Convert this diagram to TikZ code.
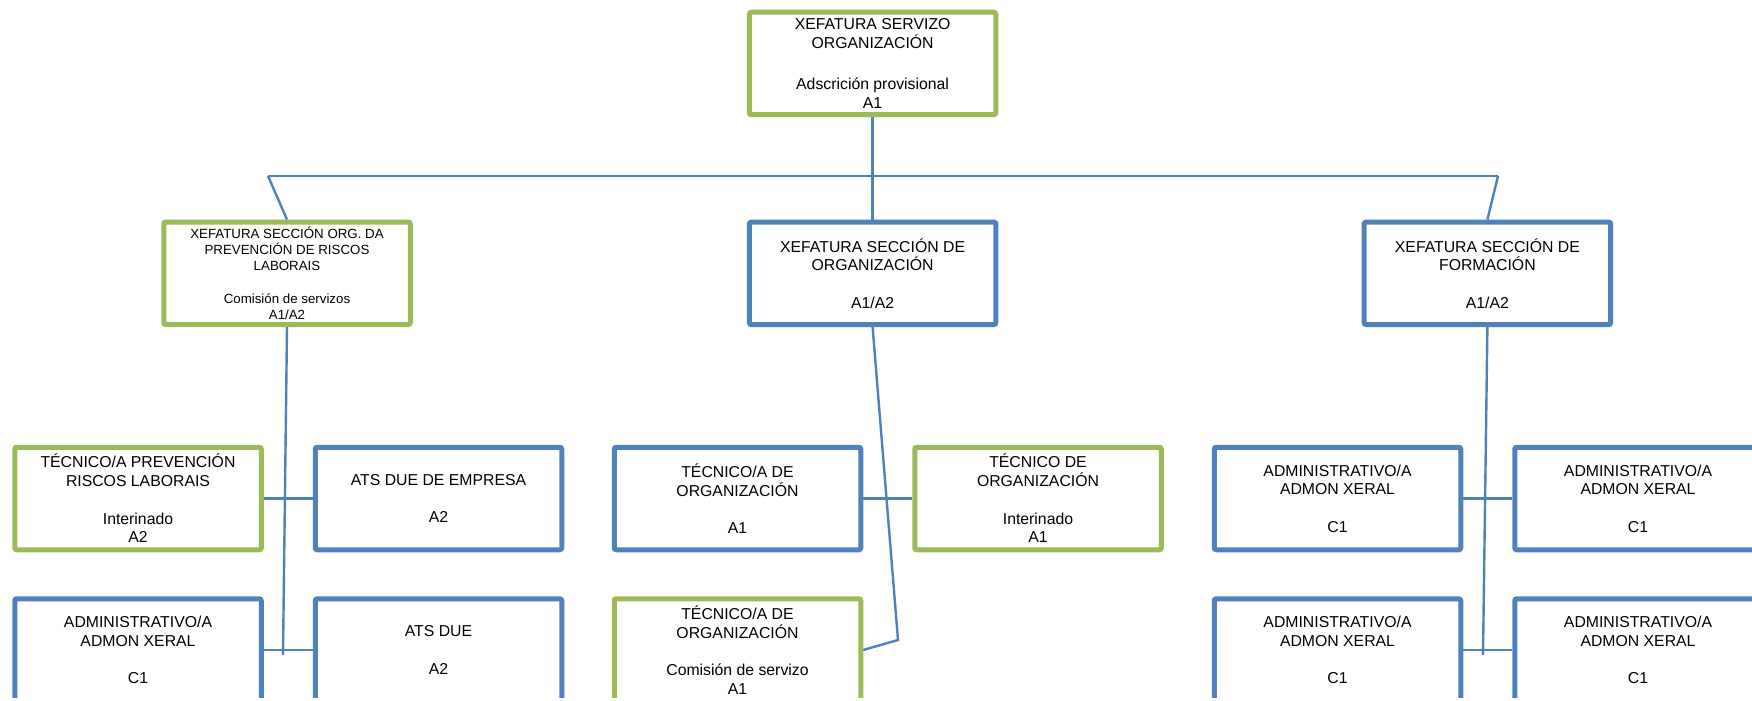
\documentclass[tikz,border=0pt]{standalone}
\usepackage{fontspec}
\setmainfont{Liberation Sans}
\usepackage{xcolor}
\usepackage{tikz}
\usetikzlibrary{positioning}

\definecolor{orgblue}{HTML}{4F81BD}
\definecolor{orggreen}{HTML}{9BBB59}

\begin{document}
\begin{tikzpicture}[
    x=0.5pt, y=-0.5pt,
    node distance=22pt and 24.5pt,
    post/.style={rectangle, draw=#1, line width=2.5pt, rounded corners=1pt, fill=white, minimum width=123.25pt, minimum height=51.25pt, inner sep=0pt, align=center, font=\fontsize{7.9}{9.35}\selectfont},
    blu/.style={post=orgblue},
    grn/.style={post=orggreen},
    link/.style={draw=orgblue, line width=1.2pt}
  ]
    \useasboundingbox (0,0) rectangle (1752,701);
    \clip (0,0) rectangle (1752,697);

    \node[grn] (serv) at (872.6,63.5) {XEFATURA SERVIZO\\ORGANIZACIÓN\\[11pt]Adscrición provisional\\A1};
    \node[grn, font=\fontsize{6.65}{8}\selectfont] (prl) at (287,273.3) {XEFATURA SECCIÓN ORG. DA\\PREVENCIÓN DE RISCOS\\LABORAIS\\[8.2pt]Comisión de servizos\\A1/A2};
    \node[blu] (org) at (872.6,273.3) {XEFATURA SECCIÓN DE\\ORGANIZACIÓN\\[9.35pt]A1/A2};
    \node[blu] (form) at (1487.4,273.3) {XEFATURA SECCIÓN DE\\FORMACIÓN\\[9.35pt]A1/A2};

    \node[grn] (tprl) at (138,498.5) {TÉCNICO/A PREVENCIÓN\\RISCOS LABORAIS\\[9.35pt]Interinado\\A2};
    \node[blu, right=of tprl] (ats) {ATS DUE DE EMPRESA\\[9.35pt]A2};
    \node[blu, below=of tprl] (adm3) {ADMINISTRATIVO/A\\ADMON XERAL\\[9.35pt]C1};
    \node[blu, below=of ats] (atsdue) {ATS DUE\\[9.35pt]A2};

    \node[blu] (torg) at (737.5,498.5) {TÉCNICO/A DE\\ORGANIZACIÓN\\[9.35pt]A1};
    \node[grn, right=of torg] (torgint) {TÉCNICO DE\\ORGANIZACIÓN\\[9.35pt]Interinado\\A1};
    \node[grn, below=of torg] (torgcs) {TÉCNICO/A DE\\ORGANIZACIÓN\\[9.35pt]Comisión de servizo\\A1};

    \node[blu] (adm1) at (1337.5,498.5) {ADMINISTRATIVO/A\\ADMON XERAL\\[9.35pt]C1};
    \node[blu, right=of adm1] (adm2) {ADMINISTRATIVO/A\\ADMON XERAL\\[9.35pt]C1};
    \node[blu, below=of adm1] (adm4) {ADMINISTRATIVO/A\\ADMON XERAL\\[9.35pt]C1};
    \node[blu, below=of adm2] (adm5) {ADMINISTRATIVO/A\\ADMON XERAL\\[9.35pt]C1};

    \coordinate (barl) at (268,176);
    \coordinate (barr) at (1498,176);
    \coordinate (prlend) at (283,655);
    \coordinate (orgknee) at (898,640);
    \coordinate (formend) at (1483,655);

    \draw[link] (serv.south) -- (org.north);
    \draw[link] (barl) -- (barr);
    \draw[link] (barl) -- (prl.north);
    \draw[link] (barr) -- (form.north);
    \draw[link] (prl.south) -- (prlend);
    \draw[link] (org.south) -- (orgknee) -- (torgcs.east);
    \draw[link] (form.south) -- (formend);
    \draw[link] (tprl.east) -- (ats.west);
    \draw[link] (adm3.east) -- (atsdue.west);
    \draw[link] (torg.east) -- (torgint.west);
    \draw[link] (adm1.east) -- (adm2.west);
    \draw[link] (adm4.east) -- (adm5.west);
  \end{tikzpicture}
\end{document}
